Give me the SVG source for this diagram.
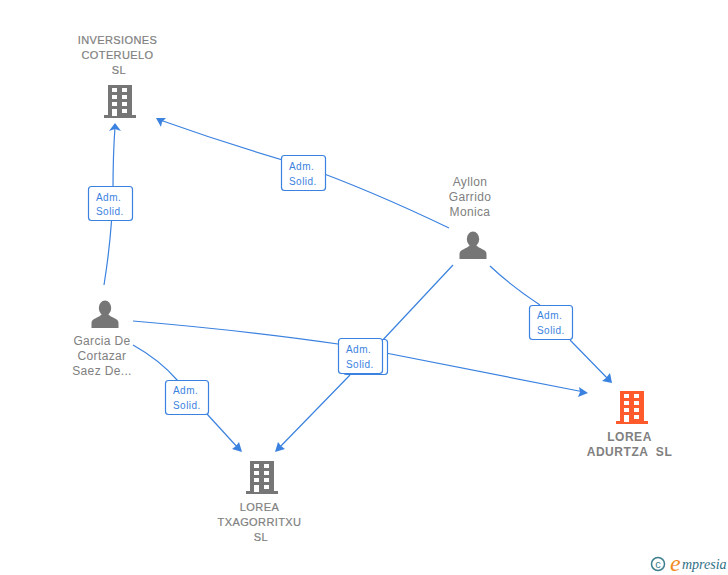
<svg xmlns="http://www.w3.org/2000/svg" width="728" height="575" viewBox="0 0 728 575">
<style>
.c{fill:none;stroke:#3b82e0;stroke-width:1.2}
.a{fill:#3b82e0}
.b{fill:#fff;stroke:#3b82e0;stroke-width:1.2}
.bl{font:10px "Liberation Sans",sans-serif;fill:#3b82e0;letter-spacing:.45px}
.t{font:12px "Liberation Sans",sans-serif;fill:#808080;text-anchor:middle;letter-spacing:.35px}
.u{font-size:11px;stroke:#808080;stroke-width:.2;letter-spacing:.4px}
.tb{font:bold 12px "Liberation Sans",sans-serif;fill:#808080;text-anchor:middle;letter-spacing:.55px}
.bg{fill:#767676}.bo{fill:#ff5a2c}.w{fill:#fff}
</style>
<defs>
<g id="bld">
<rect x="-16" y="30" width="32" height="3"/>
<rect x="-12" y="0" width="24" height="31"/>
<g class="w">
<rect x="-8" y="3" width="5" height="4"/><rect x="2" y="3" width="5" height="4"/>
<rect x="-8" y="10" width="5" height="4"/><rect x="2" y="10" width="5" height="4"/>
<rect x="-8" y="17" width="5" height="4"/><rect x="2" y="17" width="5" height="4"/>
<rect x="-8" y="24" width="5" height="7"/><rect x="2" y="24" width="5" height="4"/>
</g>
</g>
<g id="per" fill="#767676">
<ellipse cx="0" cy="8" rx="6.2" ry="7.5"/>
<path d="M-13.5 28 V23 C-13.5 18 -6 18 -3 14 H3 C6 18 13.5 18 13.5 23 V28 Z"/>
</g>
</defs>
<g id="connectors">
<path class="c" d="M104 285 Q112 235 113 190 Q113 155 115 127"/>
<path class="a" d="M115 123 L121 131 L115 129 L109 131 Z"/>
<path class="c" d="M449 228 Q370 190 300 165 Q230 145 160 120"/>
<path class="a" d="M156 118 L166 118 L162 122 L161 127 Z"/>
<path class="c" d="M490 266 Q510 285 540 305 M570 340 L609 380"/>
<path class="a" d="M612 383 L602 381 L606 378 L610 373 Z"/>
<path class="c" d="M133 321 Q250 331 345 345 L584 392"/>
<path class="a" d="M588 393 L578 397 L580 392 L579 387 Z"/>
<path class="c" d="M453 265 L380 343 M350 375 L278 449"/>
<path class="a" d="M275 452 L278 442 L281 446 L285 449 Z"/>
<path class="c" d="M133 345 Q160 360 178 381 M207 414 L239 449"/>
<path class="a" d="M242 452 L232 449 L236 446 L239 442 Z"/>
</g>
<g id="label-1"><rect class="b" x="88.500" y="186.500" width="44" height="34" rx="3"/><text class="bl" x="96" y="200.500">Adm.</text><text class="bl" x="96" y="215">Solid.</text></g>
<g id="label-2"><rect class="b" x="281.500" y="155.500" width="44" height="35" rx="3"/><text class="bl" x="289" y="169.500">Adm.</text><text class="bl" x="289" y="184.500">Solid.</text></g>
<g id="label-3"><rect class="b" x="529.500" y="305.500" width="43" height="34" rx="3"/><text class="bl" x="537" y="318.500">Adm.</text><text class="bl" x="537" y="333.500">Solid.</text></g>
<g id="label-4"><rect class="b" x="343.500" y="339.500" width="44" height="35" rx="3"/><rect class="b" x="338.500" y="338.500" width="44" height="35" rx="3"/><text class="bl" x="346" y="352.500">Adm.</text><text class="bl" x="346" y="367.500">Solid.</text></g>
<g id="label-5"><rect class="b" x="165.500" y="380.500" width="43" height="34" rx="3"/><text class="bl" x="173" y="393.500">Adm.</text><text class="bl" x="173" y="408.500">Solid.</text></g>
<g id="n-inversiones">
<text class="t u" x="117.500" y="44">INVERSIONES</text><text class="t u" x="117.500" y="59">COTERUELO</text><text class="t u" x="119" y="74">SL</text>
<use href="#bld" x="120" y="85" class="bg"/>
</g>
<g id="n-ayllon">
<text class="t" x="470" y="186">Ayllon</text><text class="t" x="470" y="201">Garrido</text><text class="t" x="470" y="216">Monica</text>
<use href="#per" x="473" y="231"/>
</g>
<g id="n-garcia">
<use href="#per" x="105" y="300"/>
<text class="t" x="102" y="345">Garcia De</text><text class="t" x="102" y="360">Cortazar</text><text class="t" x="102" y="375">Saez De...</text>
</g>
<g id="n-adurtza">
<use href="#bld" x="632" y="391" class="bo"/>
<text class="tb" x="629.500" y="441">LOREA</text><text class="tb" x="629.500" y="456" xml:space="preserve">ADURTZA  SL</text>
</g>
<g id="n-txagorritxu">
<use href="#bld" x="262" y="461" class="bg"/>
<text class="t u" x="259.500" y="511">LOREA</text><text class="t u" x="259.500" y="526">TXAGORRITXU</text><text class="t u" x="261" y="541">SL</text>
</g>
<g id="logo">
<circle cx="658" cy="564" r="6.500" fill="none" stroke="#3d7f8f" stroke-width="1.500"/>
<text x="658" y="568" font-family="'Liberation Sans',sans-serif" font-size="11" fill="#3d7f8f" text-anchor="middle">c</text>
<text x="670" y="571" font-family="'Liberation Serif',serif" font-style="italic" font-size="24" fill="#f28a1e">e</text>
<text x="682" y="569" font-family="'Liberation Serif',serif" font-style="italic" font-size="14" fill="#2f6f86">mpresia</text>
</g>
</svg>
